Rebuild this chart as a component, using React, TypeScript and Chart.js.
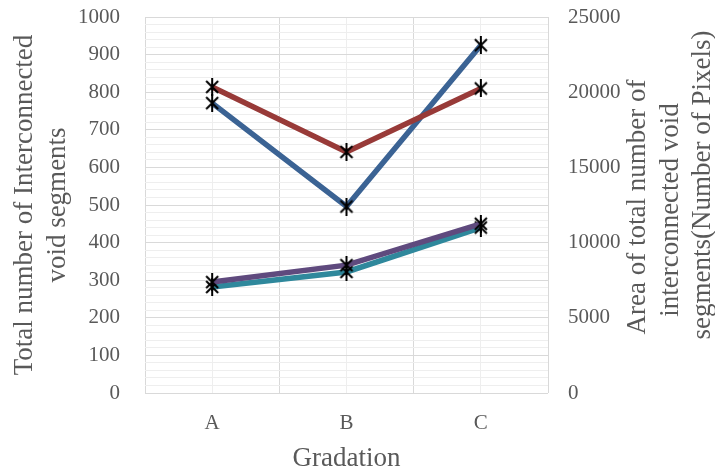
import React, { useEffect, useRef } from "react";
import { Chart, registerables } from "chart.js";

Chart.register(...registerables);

// Gradation categories on the x axis
const categories = ["A", "B", "C"];

// Left axis: total number of interconnected void segments
const segmentCountBlue = [771, 496, 925];
const segmentCountTeal = [282, 322, 440];

// Right axis: area of interconnected void segments (number of pixels)
const segmentAreaRed = [20350, 16030, 20250];
const segmentAreaPurple = [7375, 8500, 11250];

// Tick layout of the two value axes
const leftTickMax = 1000;
const leftMajorStep = 100;
const leftMinorStep = 20;
const rightTickMax = 25000;
const rightTickStep = 5000;

const leftTitle = ["Total number of Interconnected", "void segments"];
const rightTitle = [
  "Area of total number of",
  "interconnected void",
  "segments(Number of Pixels)",
];
// vertical centre of each secondary title line
const rightTitleCenters = [207, 210, 185];
const bottomTitle = "Gradation";

const FONT = "'Liberation Serif', 'Times New Roman', serif";
const TEXT = "#595959";
const MAJOR = "#d9d9d9";
const MINOR = "#eeeeee";
const TITLE_SIZE = 27;
const TICK_SIZE = 21;

function makeStarMarker(): HTMLCanvasElement {
  const c = document.createElement("canvas");
  c.width = 16;
  c.height = 18;
  const g = c.getContext("2d")!;
  g.strokeStyle = "#000";
  g.lineWidth = 2;
  g.lineCap = "butt";
  g.beginPath();
  g.moveTo(2, 3);
  g.lineTo(14, 15);
  g.moveTo(14, 3);
  g.lineTo(2, 15);
  g.moveTo(8, 0);
  g.lineTo(8, 18);
  g.stroke();
  return c;
}

// Secondary axis title, rotated to read bottom-to-top like the primary one
const rightTitlePlugin = {
  id: "rightTitle",
  afterDraw(chart: any) {
    const { ctx } = chart;
    const scale = chart.scales.y1;
    const lh = TITLE_SIZE * 1.2;
    const lastX = scale.right - 12;
    ctx.save();
    ctx.fillStyle = TEXT;
    ctx.font = `${TITLE_SIZE}px ${FONT}`;
    ctx.textAlign = "center";
    ctx.textBaseline = "middle";
    rightTitle.forEach((line, i) => {
      const x = lastX - lh * (rightTitle.length - 1 - i);
      ctx.save();
      ctx.translate(x, rightTitleCenters[i]);
      ctx.rotate(-Math.PI / 2);
      ctx.fillText(line, 0, 0);
      ctx.restore();
    });
    ctx.restore();
  },
};

export default function App() {
  const ref = useRef<HTMLCanvasElement>(null);

  useEffect(() => {
    if (!ref.current) return;
    const marker = makeStarMarker();
    const lineDefaults = {
      borderWidth: 5.5,
      tension: 0,
      pointStyle: marker as any,
      pointRadius: 8,
      fill: false,
    };
    const chart = new Chart(ref.current, {
      type: "line",
      data: {
        labels: categories,
        datasets: [
          {
            ...lineDefaults,
            label: "Area (red)",
            data: segmentAreaRed,
            borderColor: "#983a38",
            backgroundColor: "#983a38",
            yAxisID: "y1",
          },
          {
            ...lineDefaults,
            label: "Count (blue)",
            data: segmentCountBlue,
            borderColor: "#3b6394",
            backgroundColor: "#3b6394",
            yAxisID: "y",
          },
          {
            ...lineDefaults,
            label: "Area (purple)",
            data: segmentAreaPurple,
            borderColor: "#5f4a7e",
            backgroundColor: "#5f4a7e",
            yAxisID: "y1",
          },
          {
            ...lineDefaults,
            label: "Count (teal)",
            data: segmentCountTeal,
            borderColor: "#2f889c",
            backgroundColor: "#2f889c",
            yAxisID: "y",
          },
        ],
      },
      options: {
        responsive: false,
        animation: false,
        devicePixelRatio: 1,
        layout: { padding: { top: 17, left: 0, right: 0, bottom: 0 } },
        plugins: {
          legend: { display: false },
          tooltip: { enabled: false },
        },
        scales: {
          x: {
            type: "category",
            position: "bottom",
            offset: true,
            grid: { offset: true, color: MAJOR, lineWidth: 1, drawTicks: false },
            border: { display: false },
            ticks: {
              color: TEXT,
              font: { family: FONT, size: TICK_SIZE },
              padding: 18,
            },
            title: {
              display: true,
              text: bottomTitle,
              color: TEXT,
              font: { family: FONT, size: TITLE_SIZE },
              padding: { top: 0, bottom: 0 },
            },
            afterFit: (s: any) => {
              s.height = 82;
              s.paddingLeft = 0;
              s.paddingRight = 0;
            },
          },
          xMinor: {
            type: "category",
            position: "bottom",
            offset: true,
            grid: { offset: false, color: MINOR, lineWidth: 1, drawTicks: false },
            border: { display: false },
            ticks: { display: false },
            afterFit: (s: any) => {
              s.height = 0;
              s.paddingLeft = 0;
              s.paddingRight = 0;
            },
          },
          y: {
            type: "linear",
            position: "left",
            min: 0,
            max: leftTickMax,
            border: { display: false },
            grid: {
              drawTicks: false,
              lineWidth: 1,
              color: (c: any) =>
                c.tick && c.tick.value % leftMajorStep === 0 ? MAJOR : MINOR,
            },
            ticks: {
              stepSize: leftMinorStep,
              autoSkip: false,
              padding: 25,
              color: TEXT,
              font: { family: FONT, size: TICK_SIZE },
              callback: (v: any) => (Number(v) % leftMajorStep === 0 ? String(v) : ""),
            },
            title: {
              display: true,
              text: leftTitle,
              color: TEXT,
              font: { family: FONT, size: TITLE_SIZE },
              padding: { top: 9, bottom: 0 },
            },
            afterFit: (s: any) => {
              s.width = 145;
              s.paddingTop = 0;
              s.paddingBottom = 0;
            },
          },
          y1: {
            type: "linear",
            position: "right",
            min: 0,
            max: rightTickMax,
            border: { display: false },
            grid: { display: false, drawTicks: false },
            ticks: {
              stepSize: rightTickStep,
              padding: 20,
              color: TEXT,
              font: { family: FONT, size: TICK_SIZE },
              callback: (v: any) => String(v),
            },
            afterFit: (s: any) => {
              s.width = 167;
              s.paddingTop = 0;
              s.paddingBottom = 0;
            },
          },
        },
      },
      plugins: [rightTitlePlugin],
    });
    return () => chart.destroy();
  }, []);

  return (
    <div style={{ position: "absolute", left: 0, top: 0, width: 715, height: 475, background: "#fff" }}>
      <canvas ref={ref} width={715} height={475} />
    </div>
  );
}
